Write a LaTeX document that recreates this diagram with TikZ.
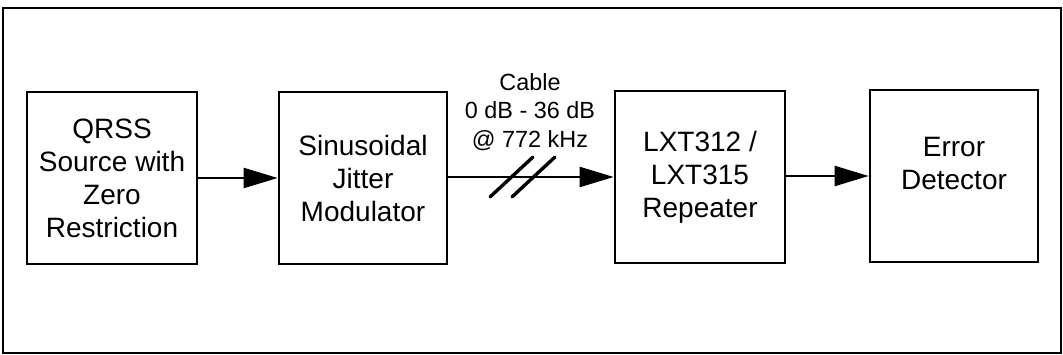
\documentclass[tikz,border=0pt]{standalone}
\usepackage{fontspec}
\setmainfont{Liberation Sans}
\usetikzlibrary{arrows.meta,calc}

\tikzset{
  block/.style={draw=black, line width=2.6pt, minimum width=170pt, minimum height=172pt,
    inner sep=0pt, align=center, font=\fontsize{28}{33}\selectfont},
  flow/.style={line width=2.2pt, -{Triangle[length=34pt,width=20pt]}},
  slash/.style={line width=3.4pt, line cap=round},
  frame/.style={draw=black, line width=2.5pt}
}

\begin{document}
\begin{tikzpicture}[x=1pt,y=-1pt]
  \useasboundingbox (0,0) rectangle (1063,355);
  \draw[frame] (3,8) rectangle (1061,353);

  % signal chain
  \node[block] (src) at (112,178) {QRSS\\Source with\\Zero\\Restriction};
  \node[block, minimum width=168pt] (mod) at (363,178) {Sinusoidal\\Jitter\\Modulator};
  \node[block] (rep) at (700,177) {LXT312 /\\LXT315\\Repeater};
  \node[block, minimum width=168pt,
        label={[align=center, font=\fontsize{28}{33}\selectfont, yshift=12pt]center:Error\\Detector}]
        (det) at (954,176) {};

  \draw[flow] (src.east |- 0,178) -- (mod.west |- 0,178);
  \draw[flow] (mod.east |- 0,177) -- (rep.west |- 0,177);
  \draw[flow] (rep.east |- 0,176) -- (det.west |- 0,176);

  % cable marker and its label
  \coordinate (s1) at (511.5,177);
  \coordinate (s2) at (533.5,177);
  \draw[slash] ($(s1)+(-21.5,20)$) -- ($(s1)+(21.5,-20)$);
  \draw[slash] ($(s2)+(-21.5,20)$) -- ($(s2)+(21.5,-20)$);
  \node[align=center, font=\fontsize{23.4}{28.5}\selectfont] (cable) at (530,112)
    {Cable\\0 dB - 36 dB\\@ 772 kHz};
\end{tikzpicture}
\end{document}
